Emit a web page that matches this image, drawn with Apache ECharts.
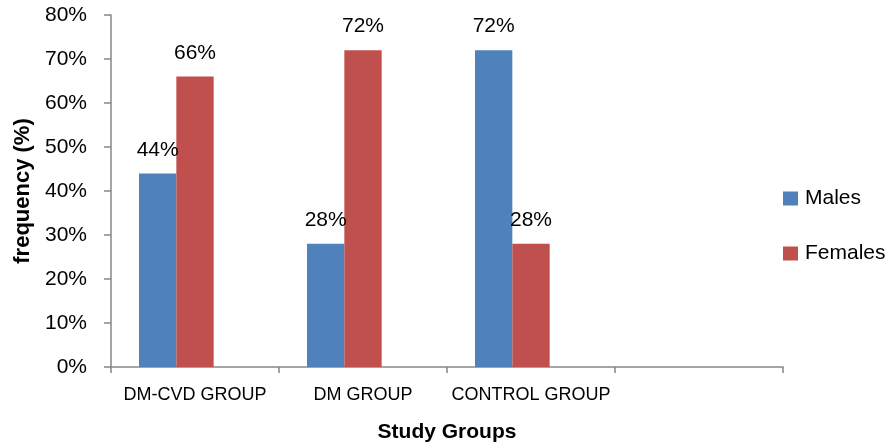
<!DOCTYPE html>
<html>
<head>
<meta charset="utf-8">
<script src="https://cdn.jsdelivr.net/npm/echarts@6/dist/echarts.min.js"></script>
<style>
html,body{margin:0;padding:0;background:#fff;}
#chart{width:890px;height:447px;}
</style>
</head>
<body>
<div id="chart"></div>
<script>
const categories = ['DM-CVD GROUP', 'DM GROUP', 'CONTROL GROUP', ''];
const males = [44, 28, 72, null];
const females = [66, 72, 28, null];
const emptySeries = [null, null, null, null];
const yTicks = { min: 0, max: 80, interval: 10 };

const FONT = 'Liberation Sans';
const chart = echarts.init(document.getElementById('chart'), null, { renderer: 'canvas' });

const labelCfg = {
  show: true,
  position: 'top',
  distance: 13,
  formatter: p => p.value + '%',
  color: '#000',
  fontFamily: FONT,
  fontSize: 21
};

chart.setOption({
  animation: false,
  textStyle: { fontFamily: FONT },
  grid: { left: 111, right: 107, top: 15, bottom: 80, containLabel: false, outerBoundsMode: 'none' },
  legend: {
    orient: 'vertical',
    left: 783,
    top: 188,
    padding: 0,
    data: ['Males', 'Females'],
    itemWidth: 15,
    itemHeight: 14,
    itemGap: 34,
    icon: 'rect',
    textStyle: { fontFamily: FONT, fontSize: 21, color: '#000', padding: [0, 0, 0, 2] }
  },
  xAxis: {
    type: 'category',
    data: categories,
    name: 'Study Groups',
    nameLocation: 'middle',
    nameGap: 55,
    nameTextStyle: { fontFamily: FONT, fontSize: 21, fontWeight: 'bold', color: '#000' },
    axisLine: { lineStyle: { color: '#868686', width: 1.5 } },
    axisTick: { show: true, length: 6, lineStyle: { color: '#868686', width: 1.5 } },
    axisLabel: { color: '#000', fontFamily: FONT, fontSize: 18, margin: 19, interval: 0 }
  },
  yAxis: {
    type: 'value',
    min: yTicks.min,
    max: yTicks.max,
    interval: yTicks.interval,
    name: 'frequency (%)',
    nameLocation: 'middle',
    nameGap: 76,
    nameTextStyle: { fontFamily: FONT, fontSize: 22, fontWeight: 'bold', color: '#000' },
    axisLine: { show: true, lineStyle: { color: '#868686', width: 1.5 } },
    axisTick: { show: true, length: 7, lineStyle: { color: '#868686', width: 1.5 } },
    splitLine: { show: false },
    axisLabel: { color: '#000', fontFamily: FONT, fontSize: 21, margin: 24, formatter: '{value}%' }
  },
  series: [
    { name: 'Males', type: 'bar', data: males, barGap: '0%', barCategoryGap: '33.33%',
      itemStyle: { color: '#4F81BD' }, label: labelCfg },
    { name: 'Females', type: 'bar', data: females, barGap: '0%', barCategoryGap: '33.33%',
      itemStyle: { color: '#C0504D' }, label: labelCfg },
    { name: 'Series3', type: 'bar', data: emptySeries, barGap: '0%', barCategoryGap: '33.33%',
      itemStyle: { color: '#9BBB59' } }
  ]
});
</script>
</body>
</html>
